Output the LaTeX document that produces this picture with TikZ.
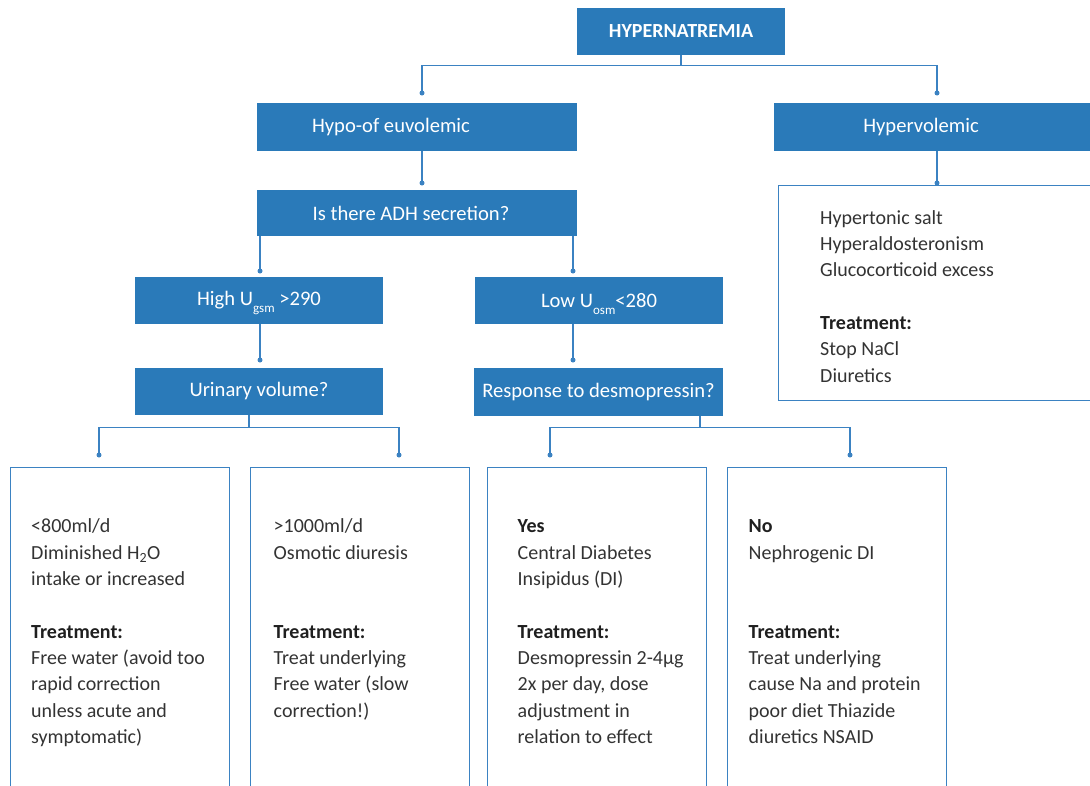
\documentclass[tikz,border=0pt]{standalone}
\usepackage{fontspec}
\setmainfont{Carlito}
\definecolor{boxblue}{HTML}{2A7AB9}
\definecolor{lineblue}{HTML}{3B82C2}
\definecolor{txt}{HTML}{333333}
\definecolor{txtb}{HTML}{1F1F1F}
\newcommand{\lowsub}[1]{\smash{\raisebox{-7pt}{\fontsize{13}{13}\selectfont #1}}}
\newcommand{\tr}{\textcolor{txtb}{\bfseries Treatment:}}
\begin{document}
\begin{tikzpicture}[x=1pt,y=-1pt,
 bluebox/.style={fill=boxblue, draw=none, text=white, inner sep=0, font=\fontsize{20.6}{24}\selectfont},
 bluetext/.style={text=white, inner sep=0, font=\fontsize{20.6}{24}\selectfont},
 outbox/.style={draw=lineblue, line width=1.2pt, fill=none, inner sep=0},
 conn/.style={draw=lineblue, line width=1.2pt},
 dot/.style={circle, fill=lineblue, inner sep=0, minimum size=5pt},
 body/.style={text=txt, align=left, inner sep=0, anchor=north west, font=\fontsize{20}{26.3}\selectfont},
]
\useasboundingbox (0,0) rectangle (1090,785);
\clip (0,0) rectangle (1090,785);

% blue boxes
\node[bluebox, minimum width=208, minimum height=47, font=\bfseries\fontsize{20}{24}\selectfont] (hyp) at (681,31.5) {HYPERNATREMIA};
\node[bluebox, minimum width=320, minimum height=48] (hypo) at (417,127) {};
\node[bluetext] (hypot) at (391,127) {Hypo-of euvolemic};
\node[bluebox, minimum width=316, minimum height=48] (hyper) at (932,127) {};
\node[bluetext] (hypert) at (921,127) {Hypervolemic};
\node[bluebox, minimum width=320, minimum height=46] (adh) at (417,213) {};
\node[bluetext] (adht) at (411,213) {Is there ADH secretion?};
\node[bluebox, minimum width=248, minimum height=47] (high) at (259,300.5) {High U\lowsub{gsm} >290};
\node[bluebox, minimum width=248, minimum height=47] (low) at (599,300.5) {Low U\lowsub{osm}<280};
\node[bluebox, minimum width=248, minimum height=47] (urin) at (259,391.5) {Urinary volume?};
\node[bluebox, minimum width=249, minimum height=48] (resp) at (598.5,392) {Response to desmopressin?};

% outline boxes
\node[outbox, minimum width=318, minimum height=215, anchor=north west] (hbox) at (777.5,185) {};
\node[outbox, minimum width=219, minimum height=340, anchor=north west] (b1) at (10,467) {};
\node[outbox, minimum width=219, minimum height=340, anchor=north west] (b2) at (249.5,467) {};
\node[outbox, minimum width=219, minimum height=340, anchor=north west] (b3) at (487,467) {};
\node[outbox, minimum width=219, minimum height=340, anchor=north west] (b4) at (726.5,467) {};

% texts
\node[body] (hboxt) at (820,205.6) {\strut Hypertonic salt\\Hyperaldosteronism\\Glucocorticoid excess\\\strut\\\tr\\Stop NaCl\\Diuretics};
\node[body] (b1t) at (31,514.3) {\strut <800ml/d\\Diminished H\textsubscript{2}O\\intake or increased\\\strut\\\tr\\Free water (avoid too\\rapid correction\\unless acute and\\symptomatic)};
\node[body] (b2t) at (273.5,514.3) {\strut >1000ml/d\\Osmotic diuresis\\\strut\\\strut\\\tr\\Treat underlying\\Free water (slow\\correction!)};
\node[body] (b3t) at (517.5,514.3) {\strut\textcolor{txtb}{\bfseries Yes}\\Central Diabetes\\Insipidus (DI)\\\strut\\\tr\\Desmopressin 2-4µg\\2x per day, dose\\adjustment in\\relation to effect};
\node[body] (b4t) at (748.5,514.3) {\strut\textcolor{txtb}{\bfseries No}\\Nephrogenic DI\\\strut\\\strut\\\tr\\Treat underlying\\cause Na and protein\\poor diet Thiazide\\diuretics NSAID};

% dots
\node[dot] (dhypo) at (422,93) {};
\node[dot] (dhyper) at (937,93) {};
\node[dot] (dadh) at (422,183) {};
\node[dot] (dhb) at (937,183) {};
\node[dot] (dhigh) at (260,271) {};
\node[dot] (dlow) at (573,271) {};
\node[dot] (durin) at (260,360) {};
\node[dot] (dresp) at (573,360) {};
\node[dot] (db1) at (99,455) {};
\node[dot] (db2) at (399,455) {};
\node[dot] (db3) at (550,455) {};
\node[dot] (db4) at (850,455) {};

% connectors
\draw[conn] (hyp.south) -- ++(0,10) -| (dhypo.center);
\draw[conn] (hyp.south) -- ++(0,10) -| (dhyper.center);
\draw[conn] (dadh |- hypo.south) -- (dadh.center);
\draw[conn] (dhb |- hyper.south) -- (dhb.center);
\draw[conn] (dhigh |- adh.south) -- (dhigh.center);
\draw[conn] (dlow |- adh.south) -- (dlow.center);
\draw[conn] (durin |- high.south) -- (durin.center);
\draw[conn] (dresp |- low.south) -- (dresp.center);
\draw[conn] ([xshift=-10pt]urin.south) -- ++(0,12) -| (db1.center);
\draw[conn] ([xshift=-10pt]urin.south) -- ++(0,12) -| (db2.center);
\draw[conn] ([xshift=101.5pt]resp.south) -- ++(0,11) -| (db3.center);
\draw[conn] ([xshift=101.5pt]resp.south) -- ++(0,11) -| (db4.center);
\end{tikzpicture}
\end{document}
